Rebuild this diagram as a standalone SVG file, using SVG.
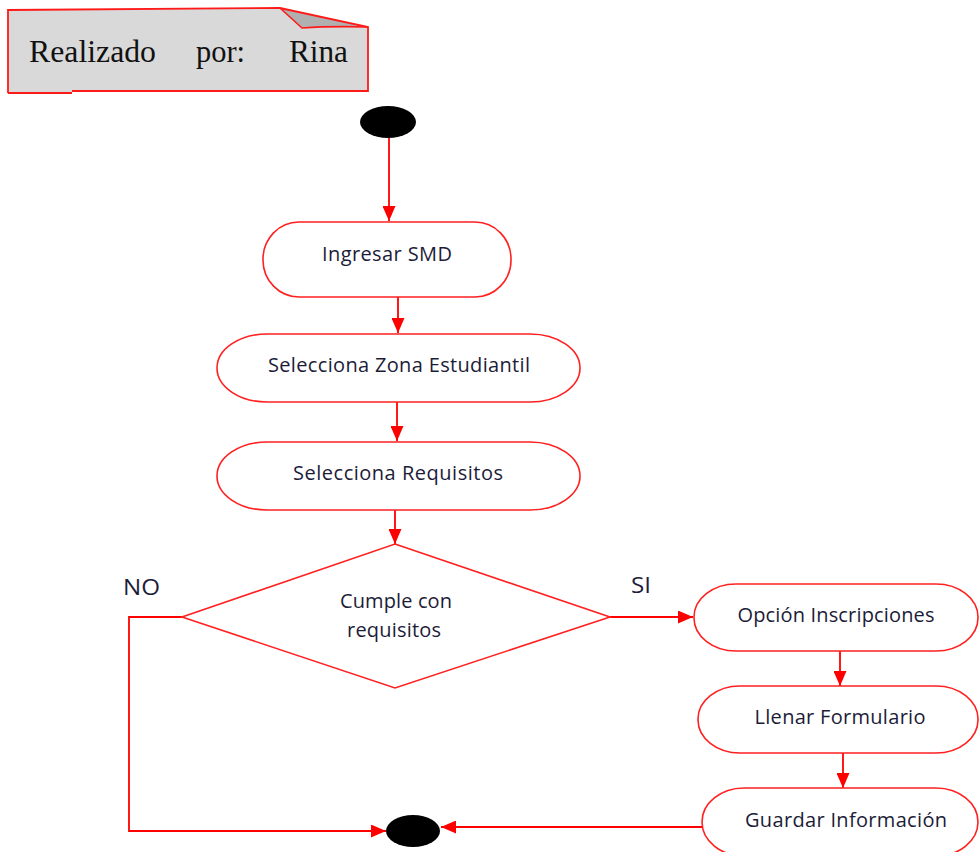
<svg xmlns="http://www.w3.org/2000/svg" width="979" height="852" viewBox="0 0 979 852">
  <style>
    .node { fill: #ffffff; stroke: #ff2020; stroke-width: 1.6; }
    .lbl { font-family: "Open Sans", "Noto Sans", "Liberation Sans", sans-serif; font-size: 20px; fill: #1c1c38; text-anchor: middle; }
    .tag { font-family: "Open Sans", "Noto Sans", "Liberation Sans", sans-serif; font-size: 22px; fill: #1c1c38; }
    .edge { fill: none; stroke: #ff0000; stroke-width: 1.8; marker-end: url(#arrow); }
    .note-text { font-family: "Liberation Serif", "Times New Roman", serif; font-size: 31px; fill: #111111; }
  </style>
  <defs>
    <marker id="arrow" markerUnits="userSpaceOnUse" markerWidth="15" markerHeight="13" refX="15" refY="6.5" orient="auto">
      <path d="M0,0 L15,6.5 L0,13 Z" fill="#ff0000"/>
    </marker>
  </defs>

  <rect width="979" height="852" fill="#ffffff"/>

  <!-- author note with folded corner -->
  <g id="note">
    <path d="M8,10 L280,8 L302,28 Q330,26 368,27 L368,91 L72,91 L72,93 L8,93 Z" fill="#d9d9d9"/>
    <path d="M280,8 L368,27 Q330,26 302,28 Z" fill="#b0b0b0"/>
    <path d="M8,93 L8,10 L280,8 L368,27 L368,91 L72,91" fill="none" stroke="#ff1a1a" stroke-width="1.8"/>
    <path d="M8,93 L72,93" fill="none" stroke="#ff1a1a" stroke-width="1.8"/>
    <path d="M280,8 L302,28 Q330,26 368,27" fill="none" stroke="#ff1a1a" stroke-width="1.6"/>
    <text class="note-text" x="29" y="62" textLength="127" lengthAdjust="spacingAndGlyphs">Realizado</text>
    <text class="note-text" x="196" y="62" textLength="49" lengthAdjust="spacingAndGlyphs">por:</text>
    <text class="note-text" x="289" y="62" textLength="59" lengthAdjust="spacingAndGlyphs">Rina</text>
  </g>

  <!-- connectors -->
  <g id="connectors">
    <path class="edge" d="M389,138 L389,221"/>
    <path class="edge" d="M398,297 L398,333"/>
    <path class="edge" d="M397,402 L397,441"/>
    <path class="edge" d="M395,510 L395,544"/>
    <path class="edge" d="M610,617 L693,617"/>
    <path class="edge" d="M840,651 L840,686"/>
    <path class="edge" d="M843,753 L843,788"/>
    <path class="edge" d="M702,827 L441,827"/>
    <path class="edge" d="M182,617 L129,617 L129,831 L386,831"/>
  </g>

  <g id="start">
    <ellipse cx="388" cy="122" rx="28" ry="16" fill="#000000"/>
  </g>

  <g id="ingresar-smd">
    <rect class="node" x="263" y="222" width="248" height="75" rx="36" ry="37"/>
    <text class="lbl" x="387" y="261" textLength="130">Ingresar SMD</text>
  </g>

  <g id="zona-estudiantil">
    <rect class="node" x="217" y="334" width="363" height="68" rx="50" ry="34"/>
    <text class="lbl" x="399" y="372" textLength="262">Selecciona Zona Estudiantil</text>
  </g>

  <g id="requisitos">
    <rect class="node" x="217" y="442" width="363" height="68" rx="50" ry="34"/>
    <text class="lbl" x="398" y="480" textLength="210">Selecciona Requisitos</text>
  </g>

  <g id="decision">
    <polygon class="node" points="395,544 610,617 395,688 182,617"/>
    <text class="lbl" x="396" y="608" textLength="112">Cumple con</text>
    <text class="lbl" x="394" y="637" textLength="94">requisitos</text>
  </g>

  <g id="label-no">
    <text class="tag" x="123" y="595" textLength="37" lengthAdjust="spacingAndGlyphs">NO</text>
  </g>
  <g id="label-si">
    <text class="tag" x="631" y="593" textLength="20" lengthAdjust="spacingAndGlyphs">SI</text>
  </g>

  <g id="opcion-inscripciones">
    <rect class="node" x="694" y="584" width="284" height="67" rx="42" ry="33"/>
    <text class="lbl" x="836" y="622" textLength="197">Opción Inscripciones</text>
  </g>

  <g id="llenar-formulario">
    <rect class="node" x="698" y="686" width="280" height="67" rx="42" ry="33"/>
    <text class="lbl" x="840" y="724" textLength="171">Llenar Formulario</text>
  </g>

  <g id="guardar-informacion">
    <rect class="node" x="702" y="788" width="276" height="68" rx="42" ry="34"/>
    <text class="lbl" x="846" y="827" textLength="202">Guardar Información</text>
  </g>

  <g id="end">
    <ellipse cx="413" cy="831" rx="27" ry="16" fill="#000000"/>
  </g>
</svg>
